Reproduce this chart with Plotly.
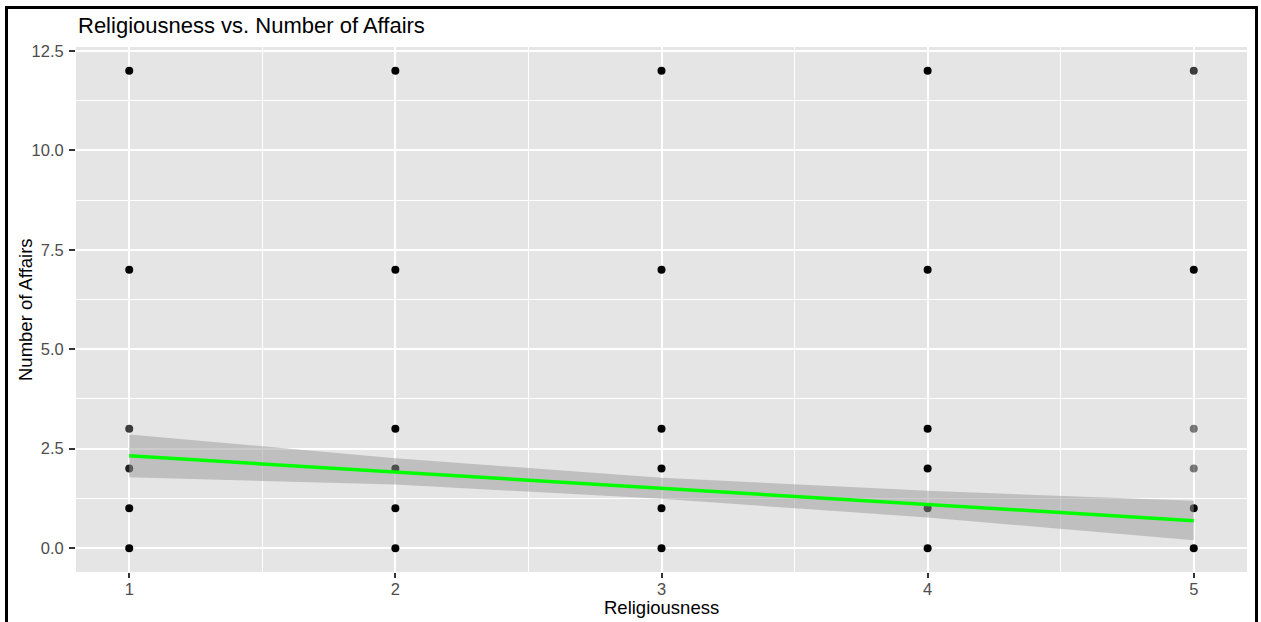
import plotly.graph_objects as go

# ---- data ----
religiousness = [1, 2, 3, 4, 5]
affair_levels = [0, 1, 2, 3, 7, 12]
# estimated number of overlapping observations per (religiousness, affairs) cell
counts = {
    1: [8, 6, 3, 2, 6, 6],
    2: [8, 8, 6, 8, 8, 8],
    3: [8, 8, 6, 8, 8, 8],
    4: [8, 6, 8, 8, 8, 8],
    5: [8, 5, 1, 1, 6, 2],
}
fit_x = [1, 2, 3, 4, 5]
fit_y = [2.32, 1.91, 1.50, 1.10, 0.69]
ci_upper = [2.86, 2.26, 1.77, 1.44, 1.19]
ci_lower = [1.78, 1.60, 1.24, 0.77, 0.20]

x_ticks = [1, 2, 3, 4, 5]
y_ticks = [0.0, 2.5, 5.0, 7.5, 10.0, 12.5]

# ---- figure ----
W, H = 1261, 622
L, R, T, B = 76, 14, 47, 50
PW, PH = W - L - R, H - T - B

def px_x(p):
    return (p - L) / PW

def px_y(p):
    return (H - B - p) / PH

ALPHA = 0.5
pts_x, pts_y, pts_c = [], [], []
for xv in religiousness:
    for yv, n in zip(affair_levels, counts[xv]):
        a = 1 - (1 - ALPHA) ** n
        pts_x.append(xv)
        pts_y.append(yv)
        pts_c.append(f"rgba(0,0,0,{a:.3f})")

fig = go.Figure()
fig.add_trace(go.Scatter(
    x=pts_x, y=pts_y, mode="markers",
    marker=dict(size=8, color=pts_c, line=dict(width=0)),
    hoverinfo="x+y", showlegend=False,
))
fig.add_trace(go.Scatter(
    x=fit_x + fit_x[::-1], y=ci_upper + ci_lower[::-1],
    fill="toself", fillcolor="rgba(153,153,153,0.5)",
    line=dict(width=0), mode="lines", hoverinfo="skip", showlegend=False,
))
fig.add_trace(go.Scatter(
    x=fit_x, y=fit_y, mode="lines",
    line=dict(color="#00FF00", width=3.5), showlegend=False,
))

tickfont = dict(family="Liberation Sans, Arial, sans-serif", size=16.5, color="#4D4D4D")
fig.update_layout(
    width=W, height=H,
    margin=dict(l=L, r=R, t=T, b=B, autoexpand=False),
    paper_bgcolor="white", plot_bgcolor="#E5E5E5",
    font=dict(family="Liberation Sans, Arial, sans-serif", color="black"),
    xaxis=dict(
        range=[0.8, 5.2], tickvals=x_ticks, ticktext=[str(v) for v in x_ticks],
        showgrid=True, gridcolor="white", gridwidth=2,
        minor=dict(showgrid=True, gridcolor="white", gridwidth=1, tick0=0.5, dtick=1),
        ticks="outside", ticklen=5, tickwidth=1.5, tickcolor="#333333",
        ticklabelstandoff=-3,
        tickfont=tickfont, zeroline=False, showline=False, fixedrange=True,
    ),
    yaxis=dict(
        range=[-0.6, 12.6], tickvals=y_ticks, ticktext=[f"{v:.1f}" for v in y_ticks],
        showgrid=True, gridcolor="white", gridwidth=2,
        minor=dict(showgrid=True, gridcolor="white", gridwidth=1, tick0=1.25, dtick=2.5),
        ticks="outside", ticklen=6, tickwidth=1.5, tickcolor="#333333",
        ticklabelstandoff=2,
        tickfont=tickfont, zeroline=False, showline=False, fixedrange=True,
    ),
    annotations=[
        dict(text="Religiousness vs. Number of Affairs", xref="paper", yref="paper",
             x=px_x(76), y=px_y(26), xanchor="left", yanchor="middle", showarrow=False,
             font=dict(size=22, color="black")),
        dict(text="Religiousness", xref="paper", yref="paper",
             x=px_x(661), y=px_y(607), xanchor="center", yanchor="middle", showarrow=False,
             font=dict(size=18.5, color="black")),
        dict(text="Number of Affairs", xref="paper", yref="paper", textangle=-90,
             x=px_x(25), y=px_y(310), xanchor="center", yanchor="middle", showarrow=False,
             font=dict(size=18.5, color="black")),
    ],
    shapes=[
        dict(type="path", xref="paper", yref="paper",
             path=(f"M {px_x(6.5)} {px_y(640)} L {px_x(6.5)} {px_y(7.5)} "
                   f"L {px_x(1256.5)} {px_y(7.5)} L {px_x(1256.5)} {px_y(640)}"),
             line=dict(color="black", width=3)),
    ],
)

fig.write_html(
    "out.html",
    config={"displayModeBar": False},
    post_script="document.body.style.margin='0px';document.body.style.overflow='hidden';",
)
